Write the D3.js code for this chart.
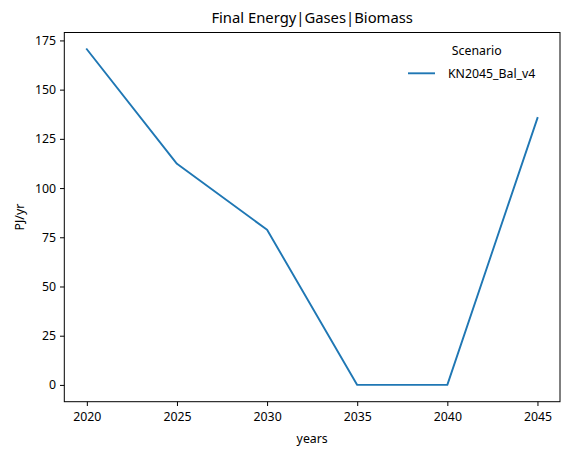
<!DOCTYPE html>
<html><head><meta charset="utf-8">
<script src="https://cdn.jsdelivr.net/npm/d3@7"></script>
<style>body{margin:0;background:#fff}svg{display:block}text{font-family:"Noto Sans","Open Sans",sans-serif;fill:#000}</style>
</head><body>
<script>
const years = [2020, 2025, 2030, 2035, 2040, 2045];
const values = [170.5, 112.3, 78.8, 0, 0, 135.6];
const xTicks = [2020, 2025, 2030, 2035, 2040, 2045];
const yTicks = [0, 25, 50, 75, 100, 125, 150, 175];
const seriesName = "KN2045_Bal_v4";
const legendTitle = "Scenario";
const title = "Final Energy|Gases|Biomass";
const xLabel = "years", yLabel = "PJ/yr";

const W = 569, H = 456;
const m = {l: 64.3, r: 560, t: 32.5, b: 401.7};
const svg = d3.select("body").append("svg").attr("width", W).attr("height", H);
const vmax = d3.max(values), vmin = d3.min(values);
const pad = (vmax - vmin) * 0.05;
const x = d3.scaleLinear().domain([2018.75, 2046.25]).range([m.l, m.r]);
const y = d3.scaleLinear().domain([vmin - pad, vmax + pad]).range([m.b, m.t]);

const gx = svg.append("g").attr("transform", `translate(0,${m.b})`)
  .call(d3.axisBottom(x).tickValues(xTicks).tickFormat(d3.format("d")).tickSize(4.3).tickPadding(4));
const gy = svg.append("g").attr("transform", `translate(${m.l},0)`)
  .call(d3.axisLeft(y).tickValues(yTicks).tickSize(4.3).tickPadding(4));
[gx, gy].forEach(g => {
  g.select(".domain").remove();
  g.selectAll("text").attr("font-size", 12.3).style("font-family", '"Noto Sans","Open Sans",sans-serif');
  g.selectAll("line").attr("stroke", "#000").attr("stroke-width", 1);
});
gx.selectAll("text").attr("dy", "0.9em");

svg.append("rect").attr("x", m.l).attr("y", m.t).attr("width", m.r - m.l).attr("height", m.b - m.t)
  .attr("fill", "none").attr("stroke", "#000").attr("stroke-width", 1);

svg.append("path").datum(years.map((d, i) => [d, values[i]]))
  .attr("fill", "none").attr("stroke", "#1f77b4").attr("stroke-width", 1.9)
  .attr("stroke-linejoin", "round").attr("stroke-linecap", "square")
  .attr("d", d3.line().x(d => x(d[0])).y(d => y(d[1])));

svg.append("text").attr("x", (m.l + m.r) / 2).attr("y", 22.7).attr("text-anchor", "middle")
  .attr("font-size", 14.8).text(title);
svg.append("text").attr("x", (m.l + m.r) / 2).attr("y", 443).attr("text-anchor", "middle")
  .attr("font-size", 12.3).text(xLabel);
svg.append("text").attr("transform", `translate(23.5,${(m.t + m.b) / 2}) rotate(-90)`)
  .attr("text-anchor", "middle").attr("font-size", 12.3).text(yLabel);

svg.append("text").attr("x", 476.7).attr("y", 55).attr("text-anchor", "middle")
  .attr("font-size", 12.3).text(legendTitle);
svg.append("line").attr("x1", 408).attr("x2", 435).attr("y1", 73.3).attr("y2", 73.3)
  .attr("stroke", "#1f77b4").attr("stroke-width", 1.9);
svg.append("text").attr("x", 448).attr("y", 77.6).attr("font-size", 12.3).text(seriesName);
</script>
</body></html>
